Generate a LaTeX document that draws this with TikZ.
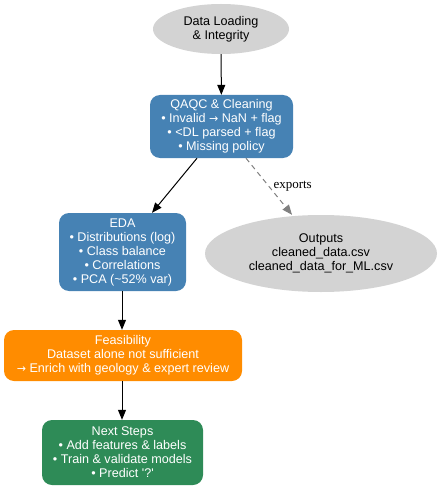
\documentclass[tikz,border=0pt]{standalone}
\usepackage{fontspec}
\setmainfont{Liberation Sans}
\newfontfamily\seriffont{Liberation Serif}
\newfontfamily\symfont{DejaVu Sans}
\newcommand{\rarr}{{\symfont\fontsize{11}{14}\selectfont →}}
\usetikzlibrary{arrows.meta,shapes.geometric}
\definecolor{steel}{HTML}{4682B4}
\definecolor{darkorange}{HTML}{FF8C00}
\definecolor{seagreen}{HTML}{2E8B57}
\definecolor{lightgrey}{HTML}{D3D3D3}
\definecolor{edgegrey}{HTML}{808080}
\begin{document}
\begin{tikzpicture}[x=1pt,y=-1pt,
  every node/.style={font=\fontsize{12.6}{14}\selectfont, align=center, inner sep=0pt},
  blob/.style={ellipse, fill=lightgrey, draw=none, text=black},
  stepbox/.style={rounded corners=10pt, draw=none, text=white},
  flow/.style={-{Triangle[length=10pt,width=8pt]}, line width=1pt, black},
  export/.style={-{Triangle[length=10pt,width=8pt]}, line width=1pt, edgegrey, dash pattern=on 5pt off 4pt}]
\useasboundingbox (0,0) rectangle (442,489);

% pipeline stages
\node[blob, minimum width=136pt, minimum height=50pt] (load) at (221,29) {Data Loading\\\& Integrity};
\node[stepbox, fill=steel, minimum width=143pt, minimum height=63pt] (qaqc) at (221.5,126.5)
  {QAQC \& Cleaning\\• Invalid \rarr{} NaN + flag\\• <DL parsed + flag\\• Missing policy};
\node[stepbox, fill=steel, minimum width=127pt, minimum height=78pt] (eda) at (122.5,252)
  {EDA\\• Distributions (log)\\• Class balance\\• Correlations\\• PCA (\textasciitilde52\% var)};
\node[blob, minimum width=232pt, minimum height=77pt] (out) at (321,253.5)
  {Outputs\\cleaned\_data.csv\\cleaned\_data\_for\_ML.csv};
\node[stepbox, fill=darkorange, minimum width=238pt, minimum height=51pt] (feas) at (123,355.5)
  {Feasibility\\Dataset alone not sufficient\\\rarr{} Enrich with geology \& expert review};
\node[stepbox, fill=seagreen, minimum width=161pt, minimum height=65pt] (next) at (122.5,452.5)
  {Next Steps\\• Add features \& labels\\• Train \& validate models\\• Predict \textquotesingle?\textquotesingle};

% connectors
\draw[flow] (load) -- (qaqc);
\draw[flow] (qaqc.south -| 197,0) -- (eda.north -| 152,0);
\draw[export] (qaqc.south -| 246,0) -- (out.north -| 292,0)
  node[pos=0.5, right=4pt, text=black, font=\seriffont\fontsize{13}{15}\selectfont] {exports};
\draw[flow] (eda.south -| 122,0) -- (feas.north -| 122,0);
\draw[flow] (feas.south -| 122,0) -- (next.north -| 122,0);
\end{tikzpicture}
\end{document}
